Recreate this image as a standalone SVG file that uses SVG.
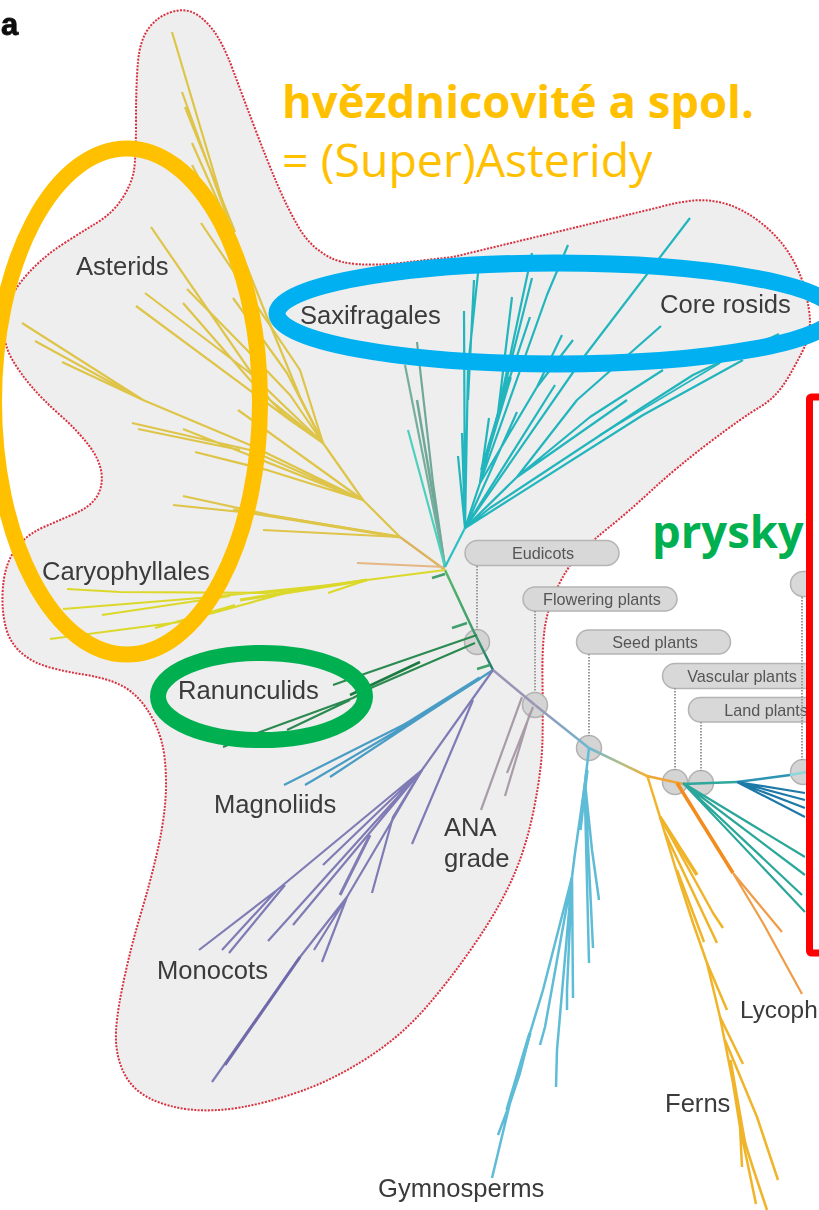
<svg xmlns="http://www.w3.org/2000/svg" width="819" height="1210" viewBox="0 0 819 1210">
<style>
.b{fill:none;stroke-width:2.2;stroke-linecap:butt;stroke-linejoin:round}
.t{fill:none;stroke-linejoin:round}
.lab{font-family:"Liberation Sans",Arial,sans-serif;font-size:25.6px;fill:#3a3a3a}
.pl{font-family:"Liberation Sans",Arial,sans-serif;font-size:16.2px;fill:#555;text-anchor:middle}
.pill{fill:#d8d8d8;stroke:#b4b4b4;stroke-width:1.5}
.nd{fill:#d4d4d4;stroke:#b2b2b2;stroke-width:1.5}
.dot{fill:none;stroke:#9a9a9a;stroke-width:2;stroke-dasharray:1.5 1.5}
.ring{fill:none}
.ov{font-family:"Open Sans","Noto Sans",sans-serif;font-size:45.4px}
</style>
<defs>
<filter id="soft" x="-5%" y="-5%" width="110%" height="110%"><feGaussianBlur stdDeviation="0.6"/></filter>
<linearGradient id="g1" gradientUnits="userSpaceOnUse" x1="535" y1="705" x2="589" y2="748"><stop offset="0" stop-color="#9b95b5"/><stop offset="1" stop-color="#6db7d2"/></linearGradient>
<linearGradient id="g2" gradientUnits="userSpaceOnUse" x1="589" y1="748" x2="647" y2="776"><stop offset="0" stop-color="#6db7d2"/><stop offset="0.6" stop-color="#b9bd80"/><stop offset="1" stop-color="#f2b134"/></linearGradient>
<linearGradient id="g3" gradientUnits="userSpaceOnUse" x1="445" y1="570" x2="493" y2="670"><stop offset="0" stop-color="#58b869"/><stop offset="0.6" stop-color="#3f9d6c"/><stop offset="1" stop-color="#24796f"/></linearGradient>
</defs>
<rect width="819" height="1210" fill="#fff"/>
<g filter="url(#soft)">
<path id="eudicot-region" fill="#eeeeee" stroke="#d8303f" stroke-width="2" stroke-dasharray="2 1.4" d="M170,12.5 Q183,8 193,12.5 Q203,17 213,30 Q223,43 233,70 Q243,97 255,128.5 Q267,160 277,183.5 Q287,207 298.5,227 Q310,247 330,257.5 Q350,268 400,263 L453,257 L660,207 Q677,202 693.5,200.5 Q710,199 726.5,204 Q743,209 760,222 Q777,235 788.5,252.5 Q800,270 805,290 Q810,310 810,322.5 Q810,335 805,346 Q800,357 788.5,377 Q777,397 760,407 Q743,417 710,442 Q677,467 652,490 Q627,513 610,526.5 Q593,540 580,553.5 Q567,567 557,588.5 Q547,610 544.5,630 Q542,650 542.5,681.5 Q543,713 542.5,740 Q542,767 534.5,806 Q527,845 513.5,876 Q500,907 475,943.5 Q450,980 425,1008.5 Q400,1037 366.5,1058.5 Q333,1080 300,1091.5 Q267,1103 240,1107.5 Q213,1112 190,1109.5 Q167,1107 150,1098.5 Q133,1090 125,1075 Q117,1060 116,1041.5 Q115,1023 122.5,986.5 Q130,950 140,916.5 Q150,883 156.5,855 Q163,827 165,805 Q167,783 165,761.5 Q163,740 155,723.5 Q147,707 137,697 Q127,687 113.5,682 Q100,677 83.5,674.5 Q67,672 50,667.5 Q33,663 21.5,653 Q10,643 6,628 Q2,613 2.5,595 Q3,577 7.5,564.5 Q12,552 21,542.5 Q30,533 45,526.5 Q60,520 75,513.5 Q90,507 96.5,497 Q103,487 101.5,473.5 Q100,460 88.5,445 Q77,430 60,415 Q43,400 31.5,386.5 Q20,373 12.5,360 Q5,347 4,333.5 Q3,320 8,305 Q13,290 28,273.5 Q43,257 61.5,245 Q80,233 96.5,223 Q113,213 122.5,198 Q132,183 134,170 Q136,157 136,120 Q136,83 138,61.5 Q140,40 148.5,28.5 Q157,17 170,12.5 Z"/>

<g id="nodes">
<g id="node-eudicots"><circle class="nd" cx="477" cy="642" r="12.5"/><rect class="pill" x="465" y="540.5" width="154" height="25" rx="12.5"/><text class="pl" x="543" y="559">Eudicots</text></g>
<g id="node-flowering"><circle class="nd" cx="535" cy="705" r="12.5"/><rect class="pill" x="523" y="587" width="154" height="24" rx="12"/><text class="pl" x="602" y="605">Flowering plants</text></g>
<g id="node-seed"><circle class="nd" cx="589" cy="748" r="12.5"/><rect class="pill" x="576.500" y="630" width="154" height="24" rx="12"/><text class="pl" x="655" y="648">Seed plants</text></g>
<g id="node-vascular"><circle class="nd" cx="675" cy="782" r="12.5"/><rect class="pill" x="662.500" y="663.500" width="154" height="25" rx="12.5"/><text class="pl" x="742" y="682">Vascular plants</text></g>
<g id="node-land"><circle class="nd" cx="701" cy="783" r="12.500"/><rect class="pill" x="688.500" y="697.500" width="154" height="24.500" rx="12"/><text class="pl" x="766" y="716">Land plants</text></g>
<g id="node-hidden"><circle class="nd" cx="803" cy="772" r="12.500"/><rect class="pill" x="790.500" y="571.500" width="100" height="25" rx="12.500"/></g>
</g>

<g id="connectors">
<g id="leaders">
<path class="dot" d="M477,566V630M535,611V692M589,654V736M675,688V770M701,722V771M802,597V760"/>
</g>
<g id="spine" class="t" stroke-width="2.500">
<path d="M445,570L473,630L493,670" stroke="url(#g3)"/>
<path d="M493,670L535,705" stroke="#9b95b5"/>
<path d="M535,705L589,748" stroke="url(#g1)"/>
<path d="M589,748L647,776" stroke="url(#g2)"/>
<path d="M647,776L683,784" stroke="#f0a538"/>
<path d="M683,784L737,782" stroke="#2ea79c"/>
<path d="M737,782L790,775" stroke="#2d93b5"/>
<path d="M790,775L812,771" stroke="#8fd6da"/>
<path d="M432,578L445,574M452,628L467,623M477,669L490,665" stroke="#3f9f6a"/>
</g>

<g id="asterids" class="b" stroke="#dec548">
<path d="M445,570L400,537" stroke="#dcb35a"/>
<path d="M400,537L363,500L323,443L300,397L267,317L227,217L172,32"/>
<path d="M227,217L182,92M235,232L185,107M245,262L192,143M248,272L192,165M323,443L270,400L151,227M323,443L287,373L233,298M323,443L300,370L201,223"/>
<path d="M323,443L290,395L247,350L187,289M323,443L290,420L136,306M323,443L250,373L145,293M323,443L285,415L250,380L183,303"/>
<path d="M363,500L250,445L143,400L22,323M143,400L35,341M143,400L62,362"/>
<path d="M363,500L250,450L132,423M240,450L138,429M363,500L183,429M363,500L267,470L195,452M363,500L238,410"/>
<path d="M400,537L270,515L173,505M270,515L183,496M400,537L263,530"/>
<path d="M400,537L233,510" stroke-width="3"/>
</g>
<path id="caryo-stem" d="M445,567L357,563" class="b" stroke="#e5b684"/>
<g id="caryophyllales" class="b" stroke="#dcd82c">
<path d="M445,570L367,580L267,593L120,592L67,589M330,585L200,598L63,609M230,596L102,615M300,589L180,622L50,639M235,605L155,628M367,580L328,593"/>
<path d="M367,580L240,600" stroke-width="3"/>
</g>

<g id="saxifragales" class="b">
<path d="M445,567L433,483L417,342" stroke="#6fa898"/>
<path d="M445,567L417,400" stroke="#6fa898" stroke-width="2.500"/>
<path d="M445,567L405,365" stroke="#75ae9e"/>
<path d="M445,567L408,430" stroke="#4dd0bd"/>
</g>
<g id="rosids" class="b" stroke="#20b5bd">
<path d="M445,567L465,528" stroke="#2cc0c4"/>
<path d="M465,528L468,367L478,273M468,400L474,280M465,528L464,311M465,528L458,456M465,528L462,433"/>
<path d="M465,528L480,483L498,413L512,297M498,413L532,253M498,413L532,278M498,413L530,317M480,483L547,295L568,245"/>
<path d="M480,483L489,418M465,528L517,412M480,483L537,387L562,335M537,387L573,340M465,528L555,385"/>
<path d="M465,528L583,358L690,218"/>
<path d="M465,528L517,477L590,417L663,370M517,477L627,400M517,477L577,400L661,326"/>
<path d="M465,528L490,508L643,407L693,375L779,334M465,528L643,415L743,360"/>
<path d="M482,470L510,377" stroke-width="4"/>
<path d="M600,435L720,363" stroke-width="1.500"/>
</g>

<g id="ranunculids" class="b" stroke="#2b8a50">
<path d="M477,635L367,673L333,685M475,643L373,687L353,698L260,732L223,747M350,700L287,730"/>
<path d="M420,662L350,695" stroke="#1f7a41" stroke-width="2.500"/>
</g>
<g id="magnoliids" class="b" stroke="#4a9cc4">
<path d="M493,670L427,713L284,785M427,713L305,785M427,713L330,777"/>
<path d="M480,678L400,728" stroke-width="3.500"/>
</g>
<g id="ana" class="b" stroke="#a99ca8">
<path d="M522,697L481,810M533,707L507,773M530,713L505,796"/>
</g>
<g id="monocots" class="b" stroke="#7f7cb5">
<path d="M493,670L422,770L277,890L199,950M277,890L222,950M285,885L229,953M422,770L323,865M422,770L268,941M422,770L293,925"/>
<path d="M473,700L412,844M422,770L393,817L372,893"/>
<path d="M422,770L347,897L300,957L212,1082M347,897L314,950M347,897L322,962"/>
<path d="M300,957L225,1065" stroke-width="3" stroke="#6f6bab"/>
<path d="M370,835L340,895" stroke-width="3"/>
</g>
<g id="gymnosperms" class="b" stroke="#5fbcd6" style="stroke-width:2.500">
<path d="M589,748L585,783L575,853L572,877L543,990L530,1033L520,1073L510,1103L492,1178M510,1103L498,1135"/>
<path d="M585,783L592,850L599,900M585,783L593,948M585,800L589,963M572,877L573,998M572,877L567,990L567,1010M572,877L557,1050L556,1087M572,877L545,1027L540,1045"/>
<path d="M587,770L580,830M530,1033L507,1110" style="stroke-width:3.500"/>
</g>
<g id="ferns" class="b" stroke="#f0b429" style="stroke-width:2.500">
<path d="M647,775L660,817L680,883L693,923L707,963L720,1017L733,1083L740,1127L753,1168L767,1210"/>
<path d="M660,817L713,913L723,928M665,833L717,943M677,870L704,942M707,963L727,1010M720,1017L743,1064M725,1040L757,1117L778,1180M740,1127L742,1167M740,1127L756,1204"/>
<path d="M660,817L697,875M730,1060L745,1145" style="stroke-width:3.500"/>
</g>
<g id="lycophytes" class="b" stroke="#f09c46">
<path d="M677,783L733,873" stroke="#f28c1e" stroke-width="3.500"/>
<path d="M733,873L782,932M733,873L763,923L802,994"/>
</g>
<g id="hornworts" class="b" stroke="#2ba79a">
<path d="M683,783L805,857M683,783L805,875M683,783L802,895M683,783L805,912"/>
</g>
<g id="bryophyte-blue" class="b" stroke="#1f79a8">
<path d="M737,782L805,793M737,782L805,800M737,782L805,808M737,782L805,817"/>
</g>
</g>

<g id="labels">
<text x="1" y="35" font-family="Liberation Sans,Arial,sans-serif" font-weight="700" font-size="31" fill="#111" stroke="#111" stroke-width="0.8">a</text>
<text class="lab" x="76" y="275">Asterids</text>
<text class="lab" x="300" y="324">Saxifragales</text>
<text class="lab" x="660" y="313">Core rosids</text>
<text class="lab" x="42" y="580">Caryophyllales</text>
<text class="lab" x="178" y="699">Ranunculids</text>
<text class="lab" x="214" y="813">Magnoliids</text>
<text class="lab" x="157" y="979">Monocots</text>
<text class="lab" x="444" y="836">ANA</text>
<text class="lab" x="444" y="867">grade</text>
<text class="lab" x="378" y="1197">Gymnosperms</text>
<text class="lab" x="665" y="1112">Ferns</text>
<text class="lab" x="740" y="1018" style="font-size:24.4px">Lycoph</text>
</g>
</g>

<g id="annotations">
<ellipse class="ring" cx="127" cy="401.500" rx="133" ry="253" stroke="#ffc000" stroke-width="16"/>
<ellipse class="ring" cx="556" cy="313.500" rx="279" ry="50.500" stroke="#00b0f0" stroke-width="17"/>
<ellipse class="ring" cx="261.500" cy="696.500" rx="103.500" ry="43.500" stroke="#00b050" stroke-width="16"/>
<text class="ov" x="282" y="118" font-weight="700" fill="#ffc000">hvězdnicovité a spol.</text>
<text class="ov" x="282" y="177" fill="#ffc000" style="font-size:46.5px">= (Super)Asteridy</text>
<text class="ov" x="652" y="548" font-weight="700" fill="#00b050">pryskyř</text>
<rect x="809.500" y="397" width="100" height="556" rx="2" fill="#fff" stroke="#ff0000" stroke-width="7"/>
</g>
</svg>
